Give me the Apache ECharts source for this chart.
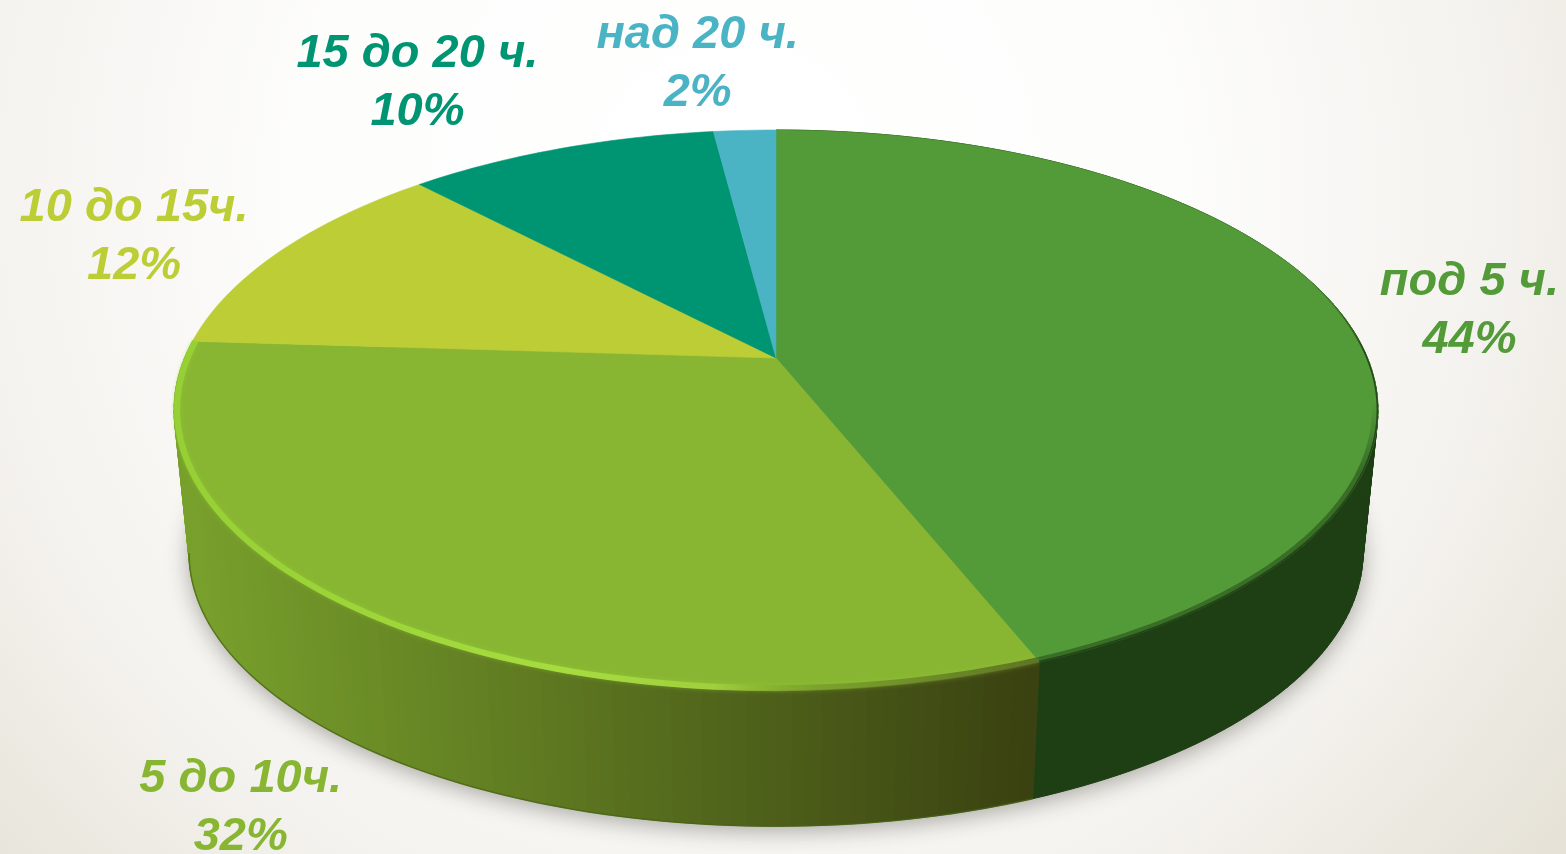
<!DOCTYPE html>
<html>
<head>
<meta charset="utf-8">
<style>html,body{margin:0;padding:0;background:#fff}#chart{width:1566px;height:854px}</style>
<script src="https://cdn.jsdelivr.net/npm/echarts@6/dist/echarts.min.js"></script>
</head>
<body>
<div id="chart"></div>
<script>
const categories = ['под 5 ч.', '5 до 10ч.', '10 до 15ч.', '15 до 20 ч.', 'над 20 ч.'];
const values = [44, 32, 12, 10, 2];
const palette = ['#539B38', '#88B632', '#BDCD36', '#009572', '#4AB4C4'];
// offset of each label from the projected middle of its slice
const labelOffsets = [[132, 1], [-126, 192], [-146, -15], [-143, -67], [-47, -67]];

// perspective disc
const cx = 776, cy = 358, B = 591.5, A = 270.4, c = -0.186;
const depth = 143, shrink = 0.975, midY = 410;
const total = values.reduce((s, v) => s + v, 0);
const starts = [];
values.reduce((s, v, i) => (starts[i] = s, s + v), 0);
// where the front wall meets the silhouette on the left
const tangentT = total * (1 - Math.acos(c) / (2 * Math.PI));

function topPt(t, r) {
  const a = t / total * 2 * Math.PI;
  const u = Math.sin(a) * r, v = -Math.cos(a) * r;
  const d = 1 + c * v;
  return [cx + B * u / d, cy + A * v / d];
}
function lowPt(p) {
  return [cx + (p[0] - cx) * shrink, midY + depth + (p[1] - midY) * shrink];
}
function wallColor(x) {
  const s = Math.max(0, Math.min(1, (x - 190) / 840));
  const from = [120, 160, 44], to = [58, 66, 17];
  return 'rgb(' + from.map((f, i) => Math.round(f + (to[i] - f) * s)).join(',') + ')';
}
function arc(t0, t1, r, fn) {
  const n = Math.max(2, Math.ceil((t1 - t0) * 3)), pts = [];
  for (let i = 0; i <= n; i++) {
    const p = topPt(t0 + (t1 - t0) * i / n, r);
    pts.push(fn ? fn(p) : p);
  }
  return pts;
}
function grad(x0, y0, x1, y1, stops) {
  return { type: 'linear', x: x0, y: y0, x2: x1, y2: y1, global: true,
    colorStops: stops.map(s => ({ offset: s[0], color: s[1] })) };
}

function renderItem(params, api) {
  const i = params.dataIndex;
  const val = api.value(0);
  const t0 = starts[i], t1 = t0 + val;
  const kids = [];

  // soft shadow under the whole disc, drawn once
  if (i === 0) {
    kids.push({
      type: 'polygon', z2: 0, silent: true,
      shape: { points: arc(0, total, 1, lowPt) },
      style: { fill: '#999', shadowColor: 'rgba(40,40,30,0.38)', shadowBlur: 22, shadowOffsetY: 5 }
    });
  }
  // wall: only the two front slices show their outer side
  if (i < 2) {
    const ring = arc(t0, t1, 1);
    for (let k = 0; k < ring.length - 1; k++) {
      const a = ring[k], b = ring[k + 1], la = lowPt(a), lb = lowPt(b);
      const col = i === 0 ? '#1E3E14' : wallColor((a[0] + b[0]) / 2);
      kids.push({
        type: 'polygon', z2: 1, silent: true,
        shape: { points: [a, b, lb, la] },
        style: { fill: col, stroke: col, lineWidth: 1 }
      });
    }
  }
  if (i === 1) {
    kids.push({
      type: 'polyline', z2: 1.5, silent: true,
      shape: { points: arc(t0, tangentT, 1, lowPt) },
      style: { fill: null, stroke: 'rgba(70,100,20,0.7)', lineWidth: 1.5 }
    });
  }
  // top face
  kids.push({
    type: 'polygon', z2: 2, silent: true,
    shape: { points: [[cx, cy]].concat(arc(t0, t1, 1)) },
    style: { fill: palette[i], stroke: palette[i], lineWidth: 0.6 }
  });
  // bevel along the front rim
  if (i === 1) {
    kids.push({
      type: 'polyline', z2: 3, silent: true,
      shape: { points: arc(t0, t1, 0.995) },
      style: {
        fill: null, lineWidth: 6, lineCap: 'butt',
        stroke: grad(180, 0, 1040, 0, [[0, '#96D034'], [0.45, '#A6DC40'], [0.62, '#A0D03C'], [0.76, 'rgba(110,140,40,0.6)'], [1, 'rgba(70,78,28,0.65)']]),
        shadowColor: 'rgba(150,210,50,0.45)', shadowBlur: 4
      }
    });
  }
  if (i === 0) {
    kids.push({
      type: 'polyline', z2: 3, silent: true,
      shape: { points: arc(t0, t1, 0.995) },
      style: {
        fill: null, lineWidth: 6, lineCap: 'butt',
        stroke: grad(0, 400, 0, 470, [[0, 'rgba(40,80,28,0)'], [1, 'rgba(40,80,28,0.6)']])
      }
    });
    kids.push({
      type: 'polyline', z2: 3, silent: true,
      shape: { points: arc(t0, t1, 0.999) },
      style: {
        fill: null, lineWidth: 1.6, lineCap: 'butt',
        stroke: grad(0, 280, 0, 350, [[0, 'rgba(30,62,20,0)'], [1, 'rgba(30,62,20,0.85)']])
      }
    });
  }
  // label
  const m = topPt(t0 + val / 2, 1), off = labelOffsets[i];
  const lx = m[0] + off[0], ly = m[1] + off[1];
  const font = 'italic bold 47px "Liberation Sans", Arial, sans-serif';
  [[categories[i], -28], [Math.round(val / total * 100) + '%', 30]].forEach(line => {
    kids.push({
      type: 'text', z2: 5, silent: true,
      style: { text: line[0], x: lx, y: ly + line[1], fill: palette[i], font,
        textAlign: 'center', textVerticalAlign: 'middle' }
    });
  });
  return { type: 'group', children: kids };
}

const chart = echarts.init(document.getElementById('chart'), null, { renderer: 'canvas' });
chart.setOption({
  animation: false,
  backgroundColor: {
    type: 'radial', x: 0.47, y: 0.22, r: 1.25,
    colorStops: [
      { offset: 0, color: '#FFFFFF' }, { offset: 0.4, color: '#FDFDFC' },
      { offset: 0.72, color: '#F4F2EE' }, { offset: 0.86, color: '#ECE9E1' },
      { offset: 1, color: '#E5E1D6' }
    ]
  },
  series: [{
    type: 'custom',
    coordinateSystem: 'none',
    renderItem,
    data: values.map((v, i) => ({ name: categories[i], value: [v] }))
  }]
});
</script>
</body>
</html>
